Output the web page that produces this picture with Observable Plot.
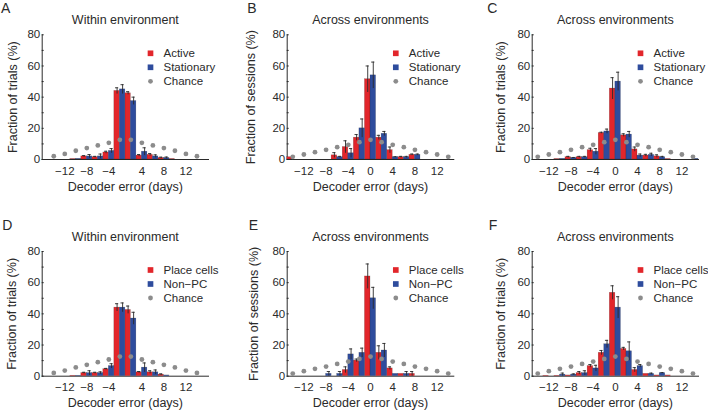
<!DOCTYPE html>
<html><head><meta charset="utf-8">
<script src="https://cdn.jsdelivr.net/npm/d3@7"></script>
<script src="https://cdn.jsdelivr.net/npm/@observablehq/plot@0.6"></script>
<style>
html,body{margin:0;padding:0;background:#fff}
#fig{position:relative;width:708px;height:410px;overflow:hidden;background:#fff}
.cell{position:absolute;width:236px;height:205px}
.cell svg{overflow:visible}
.panel g[aria-label="y-axis"] path.domain,.panel g[aria-label="x-axis"] path.domain{stroke:#8c8c8c}
</style></head><body><div id="fig"></div>
<script>
// ---- categories / tick labels ----
const slotsWithin = [-14,-12,-10,-8,-6,-4,-2,2,4,6,8,10,12,14];
const slotsAcross = [-14,-12,-10,-8,-6,-4,-2,0,2,4,6,8,10,12,14];
const ticksWithin = [-12,-8,-4,4,8,12];
const ticksAcross = [-12,-8,-4,0,4,8,12];
const yTicks = [0,10,20,30,40,50,60,70,80];
const namesMode = ["Active","Stationary","Chance"];
const namesCells = ["Place cells","Non\u2212PC","Chance"];

// ---- chance levels ----
const chanceWithin = [2.1,3.6,5.6,7.3,9.0,10.7,12.6,12.6,10.7,9.0,7.3,5.6,3.6,2.1];
const chanceAcross = [1.7,3.2,4.7,6.2,7.9,9.4,11.1,12.6,11.1,9.4,7.9,6.2,4.7,3.2,1.7];

// ---- A ----
const A_active        = [0,0,0.3,2,1.5,4.5,44,42.5,2.5,3,1,0.3,0,0];
const A_activeErr     = [0,0,0,0.5,0.5,0.8,2,1,0.7,0.8,0.5,0,0,0];
const A_stationary    = [0,0,0.4,2,2,5.5,45,37.5,5,2,1,0,0,0];
const A_stationaryErr = [0,0,0,1.2,1.5,1.5,3,2.5,2.5,1,0.6,0,0,0];
// ---- B ----
const B_active        = [1.5,0,0,0,2.7,8,14,51.5,14,6,1.5,3,0,0,0];
const B_activeErr     = [0,0,0,0,1.7,4,2,8.5,1.5,2,0.5,0.5,0,0,0];
const B_stationary    = [0,0,0,0,1.5,4,20,54,16.5,1.5,1.5,3,0,0,0];
const B_stationaryErr = [0,0,0,0,0.5,3,6,8.5,1.5,0.3,0.5,0.5,0,0,0];
// ---- C ----
const C_active        = [0,0,0.3,1.5,1.5,6,17,45.5,15.5,6.5,2.5,2,0.3,0,0];
const C_activeErr     = [0,0,0,0.5,0.5,1.2,0.5,7,1,1.5,0.8,1,0,0,0];
const C_stationary    = [0,0,0.4,1,1.5,5,18,50,16,2.5,3,1.5,0,0,0.4];
const C_stationaryErr = [0,0,0,0.3,0.5,2,1.5,6,2,1,1,0.5,0,0,0];
// ---- D ----
const D_place    = [0,0,0.3,2,2,4.5,44,42.5,2.5,2.5,1,0,0,0];
const D_placeErr = [0,0,0,0.5,0.5,0.5,2.5,2.5,0.5,1,0.5,0,0,0];
const D_non      = [0,0,0.3,2,2,6.5,44,37,5.5,2.5,0.5,0,0,0];
const D_nonErr   = [0,0,0,1.5,0.8,1.5,3,4,3,1.5,0,0,0,0];
// ---- E ----
const E_place    = [0,0,0,0,0,4,10,64,15,5,1.5,1.5,0,0,0];
const E_placeErr = [0,0,0,0,0,2,1,8,4.5,1,0,1.5,0,0,0];
const E_non      = [0,0,0,1.5,1.5,14,15,50,16.5,1.5,1.5,0,0,0,0];
const E_nonErr   = [0,0,0,1.5,1.5,3.5,3,7,4.5,0,1.5,0,0,0,0];
// ---- F ----
const F_place    = [0,0.3,0.3,0.5,2,6.5,15,53.5,17.5,4,1.5,0.5,0.5,0,0];
const F_placeErr = [0,0,0,0,1,1,1.5,4.5,1,1.5,0,0,0,0,0];
const F_non      = [0,0,1,1,2,5,20.5,44,16,6.5,1.5,2,0,0,0];
const F_nonErr   = [0,0,1,0.5,1.5,2,2.5,7,6,1,0.5,0.3,0,0,0];

const RED = "#e2262b", BLUE = "#2e4c9d", GREY = "#8c8c8c", INK = "#2a2a2a";

const panels = [
  {letter:"A", title:"Within environment", ylabel:"Fraction of trials (%)", slots:slotsWithin, ticks:ticksWithin, chance:chanceWithin, names:namesMode, red:A_active, redErr:A_activeErr, blue:A_stationary, blueErr:A_stationaryErr},
  {letter:"B", title:"Across environments", ylabel:"Fraction of sessions (%)", slots:slotsAcross, ticks:ticksAcross, chance:chanceAcross, names:namesMode, red:B_active, redErr:B_activeErr, blue:B_stationary, blueErr:B_stationaryErr},
  {letter:"C", title:"Across environments", ylabel:"Fraction of trials (%)", slots:slotsAcross, ticks:ticksAcross, chance:chanceAcross, names:namesMode, red:C_active, redErr:C_activeErr, blue:C_stationary, blueErr:C_stationaryErr},
  {letter:"D", title:"Within environment", ylabel:"Fraction of trials (%)", slots:slotsWithin, ticks:ticksWithin, chance:chanceWithin, names:namesCells, red:D_place, redErr:D_placeErr, blue:D_non, blueErr:D_nonErr},
  {letter:"E", title:"Across environments", ylabel:"Fraction of sessions (%)", slots:slotsAcross, ticks:ticksAcross, chance:chanceAcross, names:namesCells, red:E_place, redErr:E_placeErr, blue:E_non, blueErr:E_nonErr},
  {letter:"F", title:"Across environments", ylabel:"Fraction of trials (%)", slots:slotsAcross, ticks:ticksAcross, chance:chanceAcross, names:namesCells, red:F_place, redErr:F_placeErr, blue:F_non, blueErr:F_nonErr}
];

const layout = [
  {left:0,   top:0,   ml:41.7, mr:28,   mt:34.3, mb:46,   outer:0.55, letterX:0.5,  ylabX:12},
  {left:236, top:0,   ml:50.7, mr:18.7, mt:34.3, mb:46,   outer:0,    letterX:10.7, ylabX:14},
  {left:472, top:0,   ml:59.7, mr:10,   mt:34.3, mb:46,   outer:0,    letterX:14.7, ylabX:28.7},
  {left:0,   top:205, ml:41.7, mr:28,   mt:46,   mb:34.3, outer:0.55, letterX:1.7,  ylabX:11.7},
  {left:236, top:205, ml:50.7, mr:18.7, mt:46,   mb:34.3, outer:0,    letterX:12.3, ylabX:17.3},
  {left:472, top:205, ml:59.7, mr:10,   mt:46,   mb:34.3, outer:0,    letterX:16.3, ylabX:28}
];

const fmt = d => d < 0 ? "\u2212" + (-d) : String(d);
const fig = document.getElementById("fig");

panels.forEach((p, k) => {
  const L = layout[k];
  const W = 236, H = 205;
  const rows = p.slots.map((s, i) => ({slot: s, chance: p.chance[i], red: p.red[i], redErr: p.redErr[i], blue: p.blue[i], blueErr: p.blueErr[i]}));
  const bw = (W - L.ml - L.mr) / (p.slots.length + 2 * L.outer);
  const half = bw / 2, q = bw / 4, capIn = (bw / 2 - 3.2) / 2;
  const redE = rows.filter(r => r.redErr > 0);
  const blueE = rows.filter(r => r.blueErr > 0);
  const legendColors = [RED, BLUE, GREY];
  const legendMarks = [];
  p.names.forEach((name, i) => {
    legendMarks.push(Plot.dot([name], {frameAnchor: "top-right", dx: -58, dy: 18.5 + 14 * i, r: i < 2 ? 3.2 : 2.4, symbol: i < 2 ? "square" : "circle", fill: legendColors[i]}));
    legendMarks.push(Plot.text([name], {frameAnchor: "top-right", dx: -45, dy: 18.5 + 14 * i, textAnchor: "start", lineAnchor: "middle", fontSize: 11.5, fill: INK}));
  });
  const chart = Plot.plot({
    width: W, height: H,
    marginLeft: L.ml, marginRight: L.mr, marginTop: L.mt, marginBottom: L.mb,
    className: "panel",
    style: {fontFamily: "'Liberation Sans', Arial, Helvetica, sans-serif", fontSize: "11.5px", color: INK, background: "transparent"},
    x: {type: "band", domain: p.slots, paddingInner: 0, paddingOuter: L.outer, round: false, ticks: p.ticks, tickFormat: fmt, tickSize: 0, tickPadding: 7, label: null, line: true},
    y: {domain: [0, 80], ticks: yTicks, tickFormat: d => d % 20 === 0 ? String(d) : "", tickSize: -2, tickPadding: 4, label: null, line: true},
    marks: [
      Plot.barY(rows, {x: "slot", y: "red", fill: RED, insetRight: half, stroke: "#000", strokeOpacity: 0.3, strokeWidth: 0.5}),
      Plot.barY(rows, {x: "slot", y: "blue", fill: BLUE, insetLeft: half, stroke: "#000", strokeOpacity: 0.3, strokeWidth: 0.5}),
      Plot.ruleX(redE, {x: "slot", y1: r => r.red - r.redErr, y2: r => r.red + r.redErr, dx: -q, stroke: INK, strokeWidth: 0.9}),
      Plot.tickY(redE, {x: "slot", y: r => r.red + r.redErr, insetLeft: capIn, insetRight: half + capIn, stroke: INK, strokeWidth: 0.9}),
      Plot.ruleX(blueE, {x: "slot", y1: r => r.blue - r.blueErr, y2: r => r.blue + r.blueErr, dx: q, stroke: INK, strokeWidth: 0.9}),
      Plot.tickY(blueE, {x: "slot", y: r => r.blue + r.blueErr, insetLeft: half + capIn, insetRight: capIn, stroke: INK, strokeWidth: 0.9}),
      Plot.dot(rows, {x: "slot", y: "chance", r: 2.4, fill: GREY}),
      ...legendMarks,
      Plot.text([p.title], {frameAnchor: "top", dy: -11, lineAnchor: "bottom", fontSize: 12.5, fill: INK}),
      Plot.text([p.letter], {frameAnchor: "top-left", dx: L.letterX - L.ml, dy: -21.5, textAnchor: "start", lineAnchor: "bottom", fontSize: 14, fill: INK}),
      Plot.text(["Decoder error (days)"], {frameAnchor: "bottom", dy: 31, lineAnchor: "bottom", fontSize: 12.5, fill: INK}),
      Plot.text([p.ylabel], {frameAnchor: "left", dx: L.ylabX - L.ml, rotate: -90, textAnchor: "middle", lineAnchor: "middle", fontSize: 12.5, fill: INK})
    ]
  });
  const cell = document.createElement("div");
  cell.className = "cell";
  cell.style.left = L.left + "px";
  cell.style.top = L.top + "px";
  cell.appendChild(chart);
  fig.appendChild(cell);
});
</script></body></html>
